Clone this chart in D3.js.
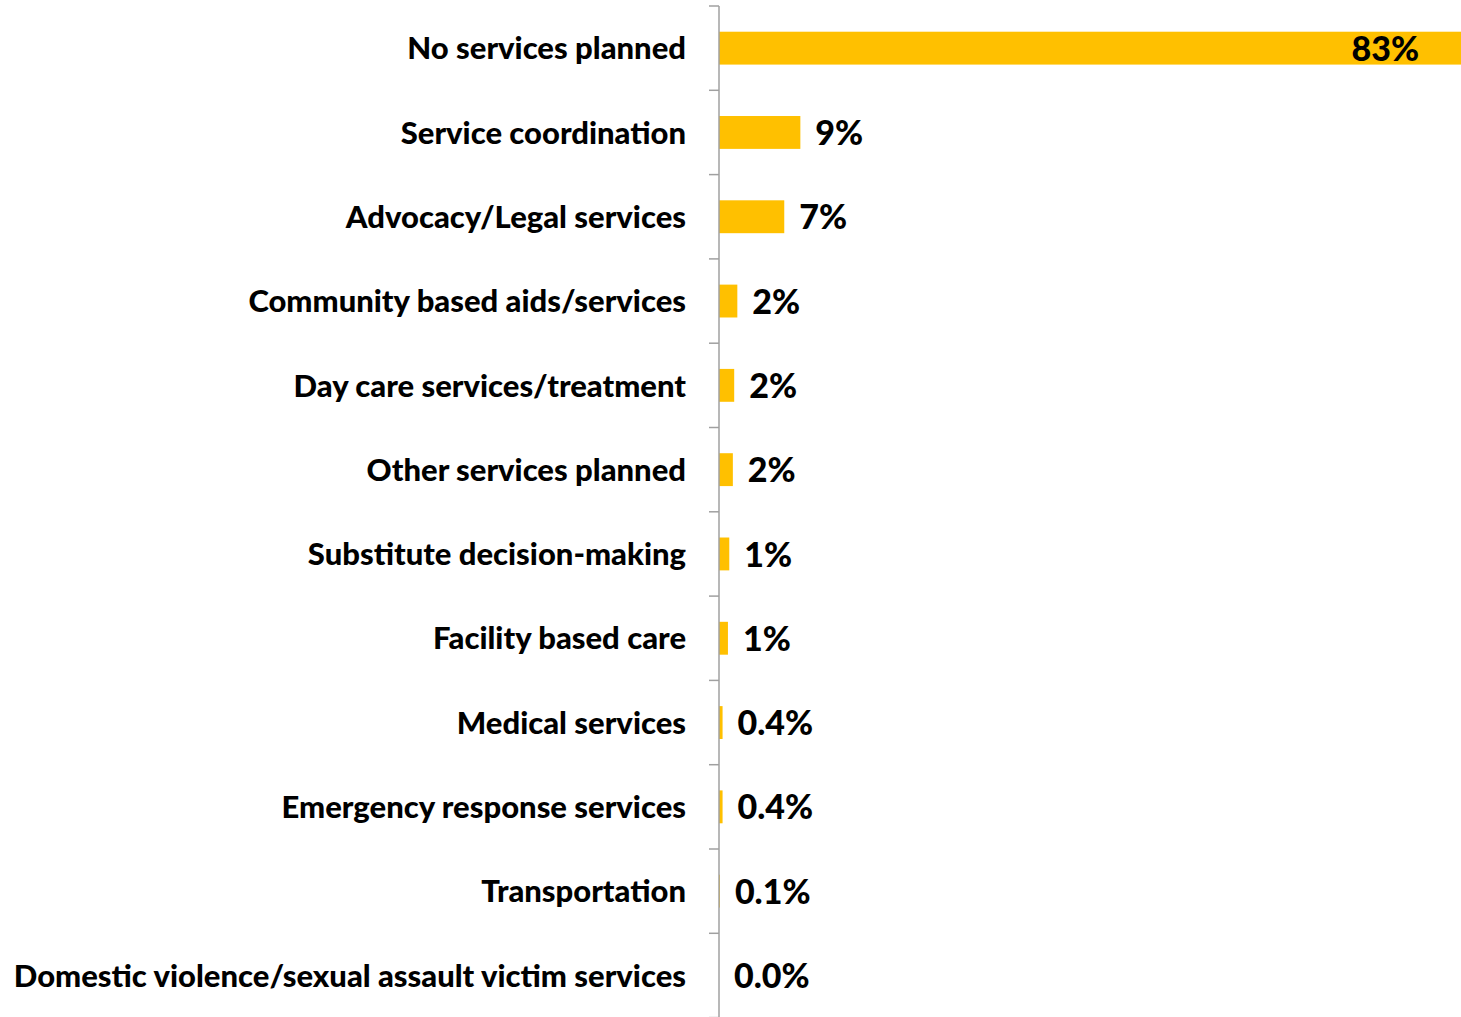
<!DOCTYPE html>
<html>
<head>
<meta charset="utf-8">
<script src="https://cdn.jsdelivr.net/npm/d3@7"></script>
<style>
  body { margin: 0; background: #fff; }
  svg text { font-family: Lato, "Open Sans", sans-serif; font-weight: 900; fill: #000; }
</style>
</head>
<body>
<div id="chart"></div>
<script>
// categories, top to bottom
var categories = [
    "No services planned",
    "Service coordination",
    "Advocacy/Legal services",
    "Community based aids/services",
    "Day care services/treatment",
    "Other services planned",
    "Substitute decision-making",
    "Facility based care",
    "Medical services",
    "Emergency response services",
    "Transportation",
    "Domestic violence/sexual assault victim services"
];

// percent of cases
var values = [83, 9.1, 7.3, 2.05, 1.7, 1.55, 1.15, 1.0, 0.4, 0.4, 0.1, 0.0];

function formatPct(v) {
    return v >= 1 ? Math.round(v) + "%" : v.toFixed(1) + "%";
}

var data = categories.map(function (c, i) { return { name: c, value: values[i] }; });

var margin = { top: 6, right: 0, bottom: 0, left: 719 },
    width = 1461 - margin.left - margin.right,
    height = 6 + 12 * 84.3 - margin.top;

var svg = d3.select("#chart").append("svg")
    .attr("width", 1461)
    .attr("height", 1017)
    .append("g")
    .attr("transform", "translate(" + margin.left + "," + margin.top + ")");

var x = d3.scaleLinear().domain([0, 83]).range([0, 742]);
var y = d3.scaleBand().domain(categories).range([0, height]).paddingInner(0.61).paddingOuter(0.305);

// bars
svg.selectAll(".bar")
    .data(data)
    .enter().append("rect")
    .attr("class", "bar")
    .attr("x", 0)
    .attr("y", function (d) { return y(d.name); })
    .attr("width", function (d) { return x(d.value); })
    .attr("height", y.bandwidth())
    .attr("fill", "#FFC000");

// axis with ticks between the categories
var axisG = svg.append("g");
axisG.append("line")
    .attr("x1", 0).attr("x2", 0)
    .attr("y1", 0).attr("y2", height)
    .attr("stroke", "#A0A0A0").attr("stroke-width", 1.5);
axisG.selectAll(".tick")
    .data(d3.range(categories.length + 1))
    .enter().append("line")
    .attr("x1", -10).attr("x2", 0)
    .attr("y1", function (i) { return i * y.step(); })
    .attr("y2", function (i) { return i * y.step(); })
    .attr("stroke", "#A0A0A0").attr("stroke-width", 1.5);

// category labels
svg.selectAll(".cat")
    .data(data)
    .enter().append("text")
    .attr("class", "cat")
    .attr("x", -33)
    .attr("y", function (d) { return y(d.name) + y.bandwidth() / 2; })
    .attr("dy", "0.36em")
    .attr("text-anchor", "end")
    .style("font-size", "31px")
    .text(function (d) { return d.name; });

// value labels
svg.selectAll(".val")
    .data(data)
    .enter().append("text")
    .attr("class", "val")
    .attr("x", function (d, i) { return i === 0 ? x(d.value) - 42 : x(d.value) + 15; })
    .attr("y", function (d) { return y(d.name) + y.bandwidth() / 2; })
    .attr("dy", "0.37em")
    .attr("text-anchor", function (d, i) { return i === 0 ? "end" : "start"; })
    .style("font-size", "34px")
    .text(function (d) { return formatPct(d.value); });
</script>
</body>
</html>
